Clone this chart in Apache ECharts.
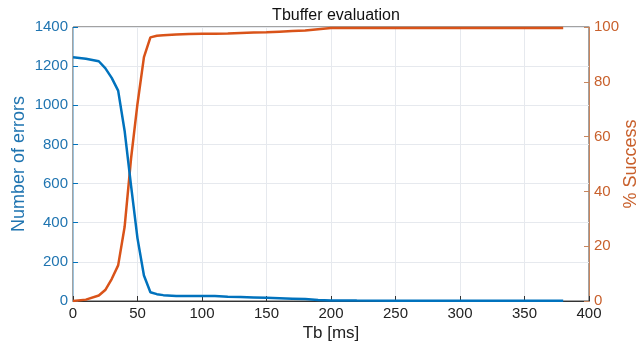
<!DOCTYPE html>
<html>
<head>
<meta charset="utf-8">
<script src="https://cdn.jsdelivr.net/npm/echarts@6/dist/echarts.min.js"></script>
<style>
  html, body { margin: 0; padding: 0; background: #fff; }
  #chart { width: 641px; height: 346px; }
</style>
</head>
<body>
<div id="chart"></div>
<script>
// Tb [ms]
const tb = [0, 10, 20, 25, 30, 35, 40, 45, 50, 55, 60, 65, 70, 80, 90, 100, 110, 120, 130, 140, 150, 160, 170, 180, 190, 200, 220, 250, 300, 350, 380];
// Number of errors
const errors = [1245, 1238, 1225, 1190, 1140, 1075, 870, 590, 320, 130, 45, 35, 30, 26, 25, 25, 25, 22, 20, 18, 16, 14, 12, 10, 5, 3, 2, 1, 1, 1, 1];
// % Success
const success = [0, 0.5, 2, 4, 8, 13, 27, 52, 72, 89, 96.2, 96.8, 97, 97.3, 97.4, 97.5, 97.5, 97.6, 97.8, 98, 98.1, 98.3, 98.5, 98.7, 99.2, 99.6, 99.6, 99.6, 99.6, 99.6, 99.6];

const blue = "#0072BD";
const orange = "#D95319";
const font = "'Liberation Sans', Arial, sans-serif";

const chart = echarts.init(document.getElementById("chart"));

const option = {
  animation: false,
  title: {
    text: "Tbuffer evaluation",
    left: 331,
    textAlign: "center",
    top: 3,
    textStyle: { fontFamily: font, fontSize: 16, fontWeight: "normal", color: "#111" }
  },
  grid: {
    left: 73, right: 52, top: 27, bottom: 45,
    outerBoundsMode: "none",
    show: true, borderColor: "#444", borderWidth: 1, backgroundColor: "#fff"
  },
  xAxis: {
    type: "value",
    min: 0, max: 400, interval: 50,
    name: "Tb [ms]",
    nameLocation: "middle",
    nameGap: 24,
    nameMoveOverlap: false,
    nameTextStyle: { fontFamily: font, fontSize: 17, color: "#222" },
    axisLine: { lineStyle: { color: "#333", width: 1 } },
    axisTick: { inside: true, length: 5, lineStyle: { color: "#333" } },
    axisLabel: { fontFamily: font, fontSize: 15, color: "#222", margin: 5, formatter: v => String(v) },
    splitLine: { show: true, lineStyle: { color: "#e6e9ee", width: 1 } }
  },
  yAxis: [
    {
      type: "value",
      min: 0, max: 1400, interval: 200,
      name: "Number of errors",
      nameLocation: "middle",
      nameGap: 45,
      nameMoveOverlap: false,
      nameTextStyle: { fontFamily: font, fontSize: 18, color: "#1f74b0" },
      axisLine: { show: true, lineStyle: { color: "#9cc3de", width: 1 } },
      axisTick: { show: true, inside: true, length: 5, lineStyle: { color: blue } },
      axisLabel: { fontFamily: font, fontSize: 15, color: "#1f74b0", margin: 5, formatter: v => String(v) },
      splitLine: { show: true, lineStyle: { color: "#e6e9ee", width: 1 } }
    },
    {
      type: "value",
      min: 0, max: 100, interval: 20,
      name: "% Success",
      nameLocation: "middle",
      nameGap: 33,
      nameRotate: 90,
      nameMoveOverlap: false,
      nameTextStyle: { fontFamily: font, fontSize: 18, color: "#c8602c" },
      axisLine: { show: true, lineStyle: { color: "#c8865e", width: 1 } },
      axisTick: { show: true, inside: true, length: 5, lineStyle: { color: "#c8865e" } },
      axisLabel: { fontFamily: font, fontSize: 15, color: "#c8602c", margin: 5, formatter: v => String(v) },
      splitLine: { show: false }
    }
  ],
  series: [
    {
      type: "line",
      yAxisIndex: 0,
      showSymbol: false,
      data: tb.map((t, i) => [t, errors[i]]),
      lineStyle: { color: blue, width: 2.5 },
      itemStyle: { color: blue },
      z: 3
    },
    {
      type: "line",
      yAxisIndex: 1,
      showSymbol: false,
      data: tb.map((t, i) => [t, success[i]]),
      lineStyle: { color: orange, width: 2.5 },
      itemStyle: { color: orange },
      z: 2
    }
  ]
};

chart.setOption(option);
</script>
</body>
</html>
